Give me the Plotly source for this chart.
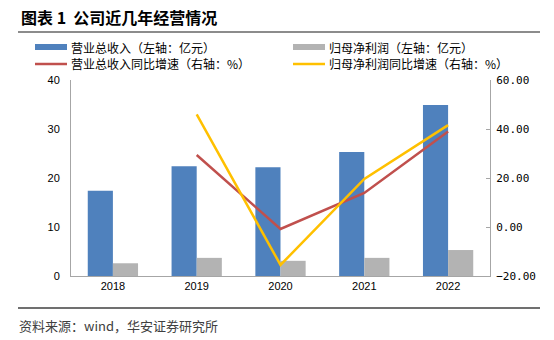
import plotly.graph_objects as go

years = ["2018", "2019", "2020", "2021", "2022"]
revenue = [17.4, 22.4, 22.2, 25.3, 34.9]
net_profit = [2.6, 3.7, 3.1, 3.7, 5.3]
revenue_yoy = [None, 29.4, -0.8, 13.9, 39.0]
profit_yoy = [None, 46.0, -15.5, 19.6, 41.6]

names = ["营业总收入（左轴：亿元）", "归母净利润（左轴：亿元）",
         "营业总收入同比增速（右轴：%）", "归母净利润同比增速（右轴：%）"]
colors = ["#4F81BD", "#B3B3B3", "#C0504D", "#FFC000"]

W, H = 554, 340
L, R, T, B = 71, 490, 80, 276
CJK = "Noto Sans CJK SC"

fig = go.Figure()
fig.add_trace(go.Bar(x=years, y=revenue, name=names[0], marker_color=colors[0],
                     marker_line_width=0))
fig.add_trace(go.Bar(x=years, y=net_profit, name=names[1], marker_color=colors[1],
                     marker_line_width=0))
fig.add_trace(go.Scatter(x=years, y=revenue_yoy, name=names[2], yaxis="y2",
                         mode="lines", line=dict(color=colors[2], width=2.5)))
fig.add_trace(go.Scatter(x=years, y=profit_yoy, name=names[3], yaxis="y2",
                         mode="lines", line=dict(color=colors[3], width=2.5)))

def px(x):
    return (x - L) / (R - L)

def py(y):
    return (B - y) / (B - T)

shapes = [
    dict(type="line", xref="paper", yref="paper", x0=px(18), x1=px(540),
         y0=py(32), y1=py(32), line=dict(color="#8C8C8C", width=2)),
    dict(type="line", xref="paper", yref="paper", x0=px(18), x1=px(540),
         y0=py(308), y1=py(308), line=dict(color="#404040", width=1.5)),
]
annotations = [
    dict(text="<b>图表 1  公司近几年经营情况</b>", xref="paper", yref="paper",
         x=px(19), y=py(17), xanchor="left", yanchor="middle", showarrow=False,
         font=dict(family=CJK, size=16, color="#000000")),
    dict(text="资料来源：wind，华安证券研究所", xref="paper", yref="paper",
         x=px(17), y=py(325), xanchor="left", yanchor="middle", showarrow=False,
         font=dict(family=CJK, size=13, color="#404040")),
]
# legend (manual)
leg = [(35, 47, 0), (293, 47, 1), (35, 64, 2), (293, 64, 3)]
for (lx, ly, i) in leg:
    if i < 2:
        shapes.append(dict(type="rect", xref="paper", yref="paper",
                           x0=px(lx), x1=px(lx + 32), y0=py(ly - 3), y1=py(ly + 3),
                           fillcolor=colors[i], line_width=0))
    else:
        shapes.append(dict(type="line", xref="paper", yref="paper",
                           x0=px(lx), x1=px(lx + 32), y0=py(ly), y1=py(ly),
                           line=dict(color=colors[i], width=2.5)))
    annotations.append(dict(text=names[i], xref="paper", yref="paper",
                            x=px(lx + 34), y=py(ly), xanchor="left", yanchor="middle",
                            showarrow=False,
                            font=dict(family=CJK, size=12, color="#000000")))

fig.update_layout(
    width=W, height=H, plot_bgcolor="white", paper_bgcolor="white",
    margin=dict(l=L, r=W - R, t=T, b=H - B, pad=0),
    showlegend=False, barmode="group", bargap=0.4, bargroupgap=0,
    font=dict(family="Liberation Sans", size=11, color="#000000"),
    xaxis=dict(showline=True, linecolor="#A6A6A6", linewidth=1, ticks="",
               tickfont=dict(size=11), showgrid=False),
    yaxis=dict(range=[0, 40], dtick=10, showline=True, linecolor="#A6A6A6",
               linewidth=1, showgrid=False, zeroline=False, ticks="",
               ticklen=0, tickfont=dict(size=11), ticklabelstandoff=8),
    yaxis2=dict(range=[-20, 60], dtick=20, overlaying="y", side="right",
                showline=True, linecolor="#A6A6A6", linewidth=1, showgrid=False,
                zeroline=False, ticks="inside", ticklen=4, tickcolor="#A6A6A6",
                tickformat=".2f", tickfont=dict(family="DejaVu Sans Mono", size=11),
                ticklabelstandoff=3),
    shapes=shapes, annotations=annotations,
)

fig.write_html("out.html")
